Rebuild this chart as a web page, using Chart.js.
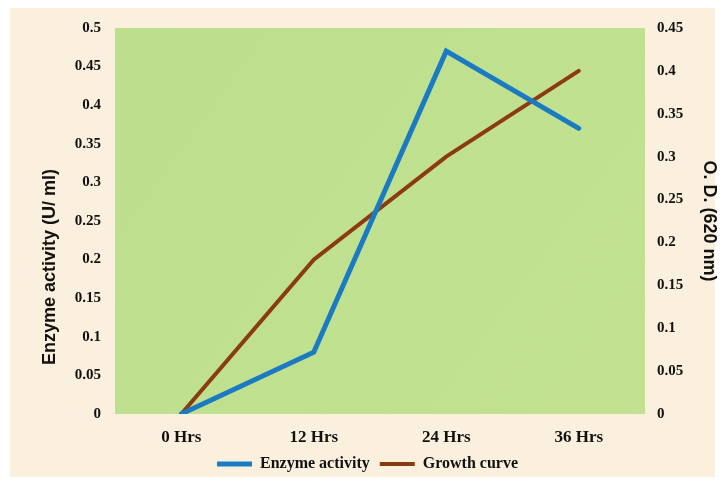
<!DOCTYPE html>
<html>
<head>
<meta charset="utf-8">
<script src="https://cdn.jsdelivr.net/npm/chart.js@4/dist/chart.umd.min.js"></script>
<style>
  html, body { margin: 0; padding: 0; background: #ffffff; }
  #wrap { width: 725px; height: 483px; }
</style>
</head>
<body>
<div id="wrap"><canvas id="c" width="725" height="483"></canvas></div>
<script>
// Sampling times
const hours = ['0 Hrs', '12 Hrs', '24 Hrs', '36 Hrs'];
// Enzyme activity (U/ ml), left axis
const enzymeActivity = [0, 0.08, 0.47, 0.37];
// Growth curve, O.D. at 620 nm, right axis
const growthOD = [0, 0.18, 0.30, 0.40];

const serif = '"Liberation Serif", "Times New Roman", serif';
const sans = '"Liberation Sans", Arial, sans-serif';
const tickFont = { family: serif, size: 15, weight: 'bold' };
const xTickFont = { family: serif, size: 17, weight: 'bold' };
const titleFont = { family: sans, size: 18, weight: 'bold' };
const fmt = v => String(Number(v.toFixed(2)));

// Paints the cream page and the green plotting panel
const panelBg = {
  id: 'panelBg',
  beforeDraw(chart) {
    const { ctx, chartArea: a, width, height } = chart;
    ctx.save();
    ctx.fillStyle = '#ffffff';
    ctx.fillRect(0, 0, width, height);
    ctx.fillStyle = '#fbf0dd';
    ctx.fillRect(10, 8, width - 20, height - 14);
    const g = ctx.createLinearGradient(a.left, a.top, a.right, a.bottom);
    g.addColorStop(0, '#bddf8d');
    g.addColorStop(1, '#c2e292');
    ctx.fillStyle = g;
    ctx.fillRect(a.left, a.top, a.right - a.left, a.bottom - a.top);
    ctx.restore();
  }
};

// Left axis title, set somewhat below the middle of the axis
const leftTitle = {
  id: 'leftTitle',
  afterDraw(chart) {
    const { ctx, chartArea: a } = chart;
    ctx.save();
    ctx.translate(50, (a.top + a.bottom) / 2 + 46);
    ctx.rotate(-Math.PI / 2);
    ctx.font = 'bold 18px ' + sans;
    ctx.fillStyle = '#111111';
    ctx.textAlign = 'center';
    ctx.textBaseline = 'middle';
    ctx.fillText('Enzyme activity (U/ ml)', 0, 0);
    ctx.restore();
  }
};

new Chart(document.getElementById('c'), {
  type: 'line',
  data: {
    labels: hours,
    datasets: [
      {
        label: 'Enzyme activity',
        data: enzymeActivity,
        yAxisID: 'y',
        borderColor: '#1b7bc2',
        backgroundColor: '#1b7bc2',
        borderWidth: 5,
        borderCapStyle: 'round',
        pointRadius: 0,
        tension: 0
      },
      {
        label: 'Growth curve',
        data: growthOD,
        yAxisID: 'y1',
        borderColor: '#8c3a10',
        backgroundColor: '#8c3a10',
        borderWidth: 4,
        borderCapStyle: 'round',
        pointRadius: 0,
        tension: 0
      }
    ]
  },
  options: {
    responsive: false,
    animation: false,
    devicePixelRatio: 1,
    layout: { padding: { left: 10, right: 0, top: 28, bottom: 1 } },
    plugins: {
      legend: {
        position: 'bottom',
        labels: {
          usePointStyle: true,
          pointStyle: 'line',
          pointStyleWidth: 35,
          boxHeight: 6,
          color: '#111111',
          font: { family: serif, size: 16, weight: 'bold' },
          padding: 10
        }
      },
      tooltip: { enabled: false }
    },
    scales: {
      x: {
        offset: true,
        grid: { display: false, drawTicks: false },
        border: { display: false },
        ticks: { color: '#111111', font: xTickFont, padding: 13 },
        afterFit(s) { s.height = 32; }
      },
      y: {
        position: 'left',
        min: 0, max: 0.5,
        grid: { display: false, drawTicks: false },
        border: { display: false },
        ticks: { stepSize: 0.05, color: '#111111', font: tickFont, padding: 14, callback: fmt },
        afterFit(s) { s.width = 105; }
      },
      y1: {
        position: 'right',
        min: 0, max: 0.45,
        grid: { display: false, drawTicks: false },
        border: { display: false },
        ticks: { stepSize: 0.05, color: '#111111', font: tickFont, padding: 12, callback: fmt },
        title: { display: true, text: 'O. D. (620 nm)', color: '#111111', font: titleFont, padding: { top: 5, bottom: 0 } },
        afterFit(s) { s.width = 80; }
      }
    }
  },
  plugins: [panelBg, leftTitle]
});
</script>
</body>
</html>
